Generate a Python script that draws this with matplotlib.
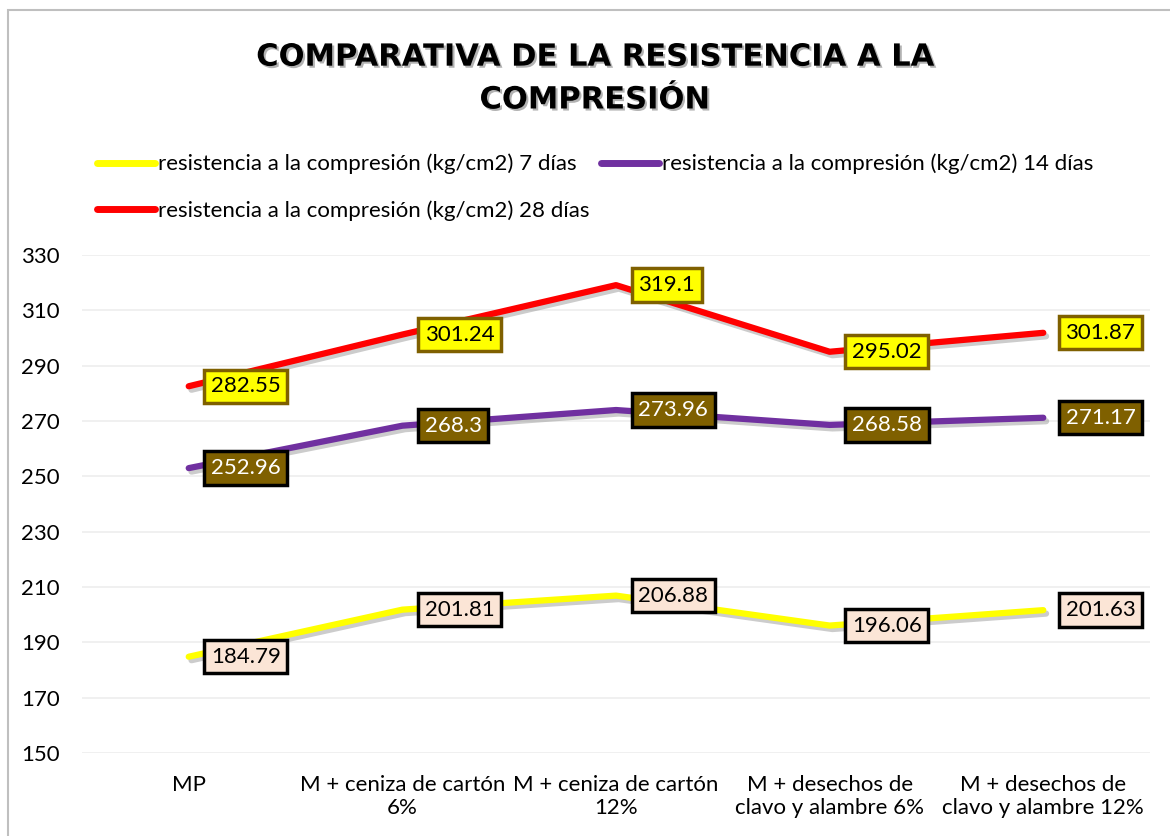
import numpy as np
import matplotlib
matplotlib.use("Agg")
import matplotlib.pyplot as plt
import matplotlib.patheffects as pe
from matplotlib.patches import Rectangle

plt.rcParams['font.family'] = ['Lato', 'DejaVu Sans']

categorias = ['MP', 'M + ceniza de cartón\n6%', 'M + ceniza de cartón\n12%',
              'M + desechos de\nclavo y alambre 6%', 'M + desechos de\nclavo y alambre 12%']
dias_7 = [184.79, 201.81, 206.88, 196.06, 201.63]
dias_14 = [252.96, 268.3, 273.96, 268.58, 271.17]
dias_28 = [282.55, 301.24, 319.1, 295.02, 301.87]
etiquetas = ['resistencia a la compresión (kg/cm2) 7 días',
             'resistencia a la compresión (kg/cm2) 14 días',
             'resistencia a la compresión (kg/cm2) 28 días']
y_ticks = [150, 170, 190, 210, 230, 250, 270, 290, 310, 330]

fig = plt.figure(figsize=(11.7, 8.36), dpi=100)
ax = fig.add_axes([0.070, 0.0993, 0.913, 0.5957])

x = np.arange(len(categorias))
sombra = [pe.SimpleLineShadow(offset=(2, -2.5), shadow_color='gray', alpha=0.4),
          pe.Normal()]

series = [
    (dias_7, '#FFFF00', '#FBE5D6', 'black', 'black'),
    (dias_14, '#7030A0', '#7F6000', 'black', 'white'),
    (dias_28, '#FF0000', '#FFFF00', '#7F6000', 'black'),
]
lineas = []
for (vals, col, fc, ec, tc), lab in zip(series, etiquetas):
    ln, = ax.plot(x, vals, color=col, lw=4.5, solid_capstyle='round',
                  path_effects=sombra, label=lab, zorder=3)
    lineas.append(ln)
    for xi, v in zip(x, vals):
        ax.annotate(f'{v:g}', (xi, v), xytext=(16, 0), textcoords='offset points',
                    ha='left', va='center', fontsize=16, color=tc, zorder=5,
                    bbox=dict(boxstyle='square,pad=0.3', fc=fc, ec=ec, lw=2.5))

ax.set_ylim(150, 330)
ax.set_xlim(-0.5, 4.5)
ax.set_yticks(y_ticks)
ax.set_xticks(x)
ax.set_xticklabels(categorias, fontsize=16, linespacing=1.15)
ax.tick_params(axis='y', labelsize=16, length=0, pad=16)
ax.tick_params(axis='x', length=0, pad=16)
ax.grid(axis='y', color='#EDEDED', lw=1.2)
ax.set_axisbelow(True)
for s in ax.spines.values():
    s.set_visible(False)

leg = fig.legend([lineas[0], lineas[2], lineas[1]],
                 [etiquetas[0], etiquetas[2], etiquetas[1]],
                 ncol=2, loc='upper left', bbox_to_anchor=(0.066, 0.84),
                 frameon=False, fontsize=16, handlelength=2.6,
                 handletextpad=0.15, columnspacing=0.5, labelspacing=1.15)
for h in leg.get_lines():
    h.set_path_effects([])
    h.set_linewidth(5)

fig.text(0.508, 0.906, 'COMPARATIVA DE LA RESISTENCIA A LA\nCOMPRESIÓN',
         ha='center', va='center', fontsize=22, fontweight='bold',
         family=['DejaVu Sans'], linespacing=1.6,
         path_effects=[pe.withSimplePatchShadow(offset=(1.5, -1.5),
                                                 shadow_rgbFace='gray', alpha=0.6)])

fig.patches.append(Rectangle((0.007, -0.01), 1.0, 0.998, transform=fig.transFigure,
                             fill=False, ec='#BFBFBF', lw=1.5))

fig.savefig('out.png', dpi=100)
